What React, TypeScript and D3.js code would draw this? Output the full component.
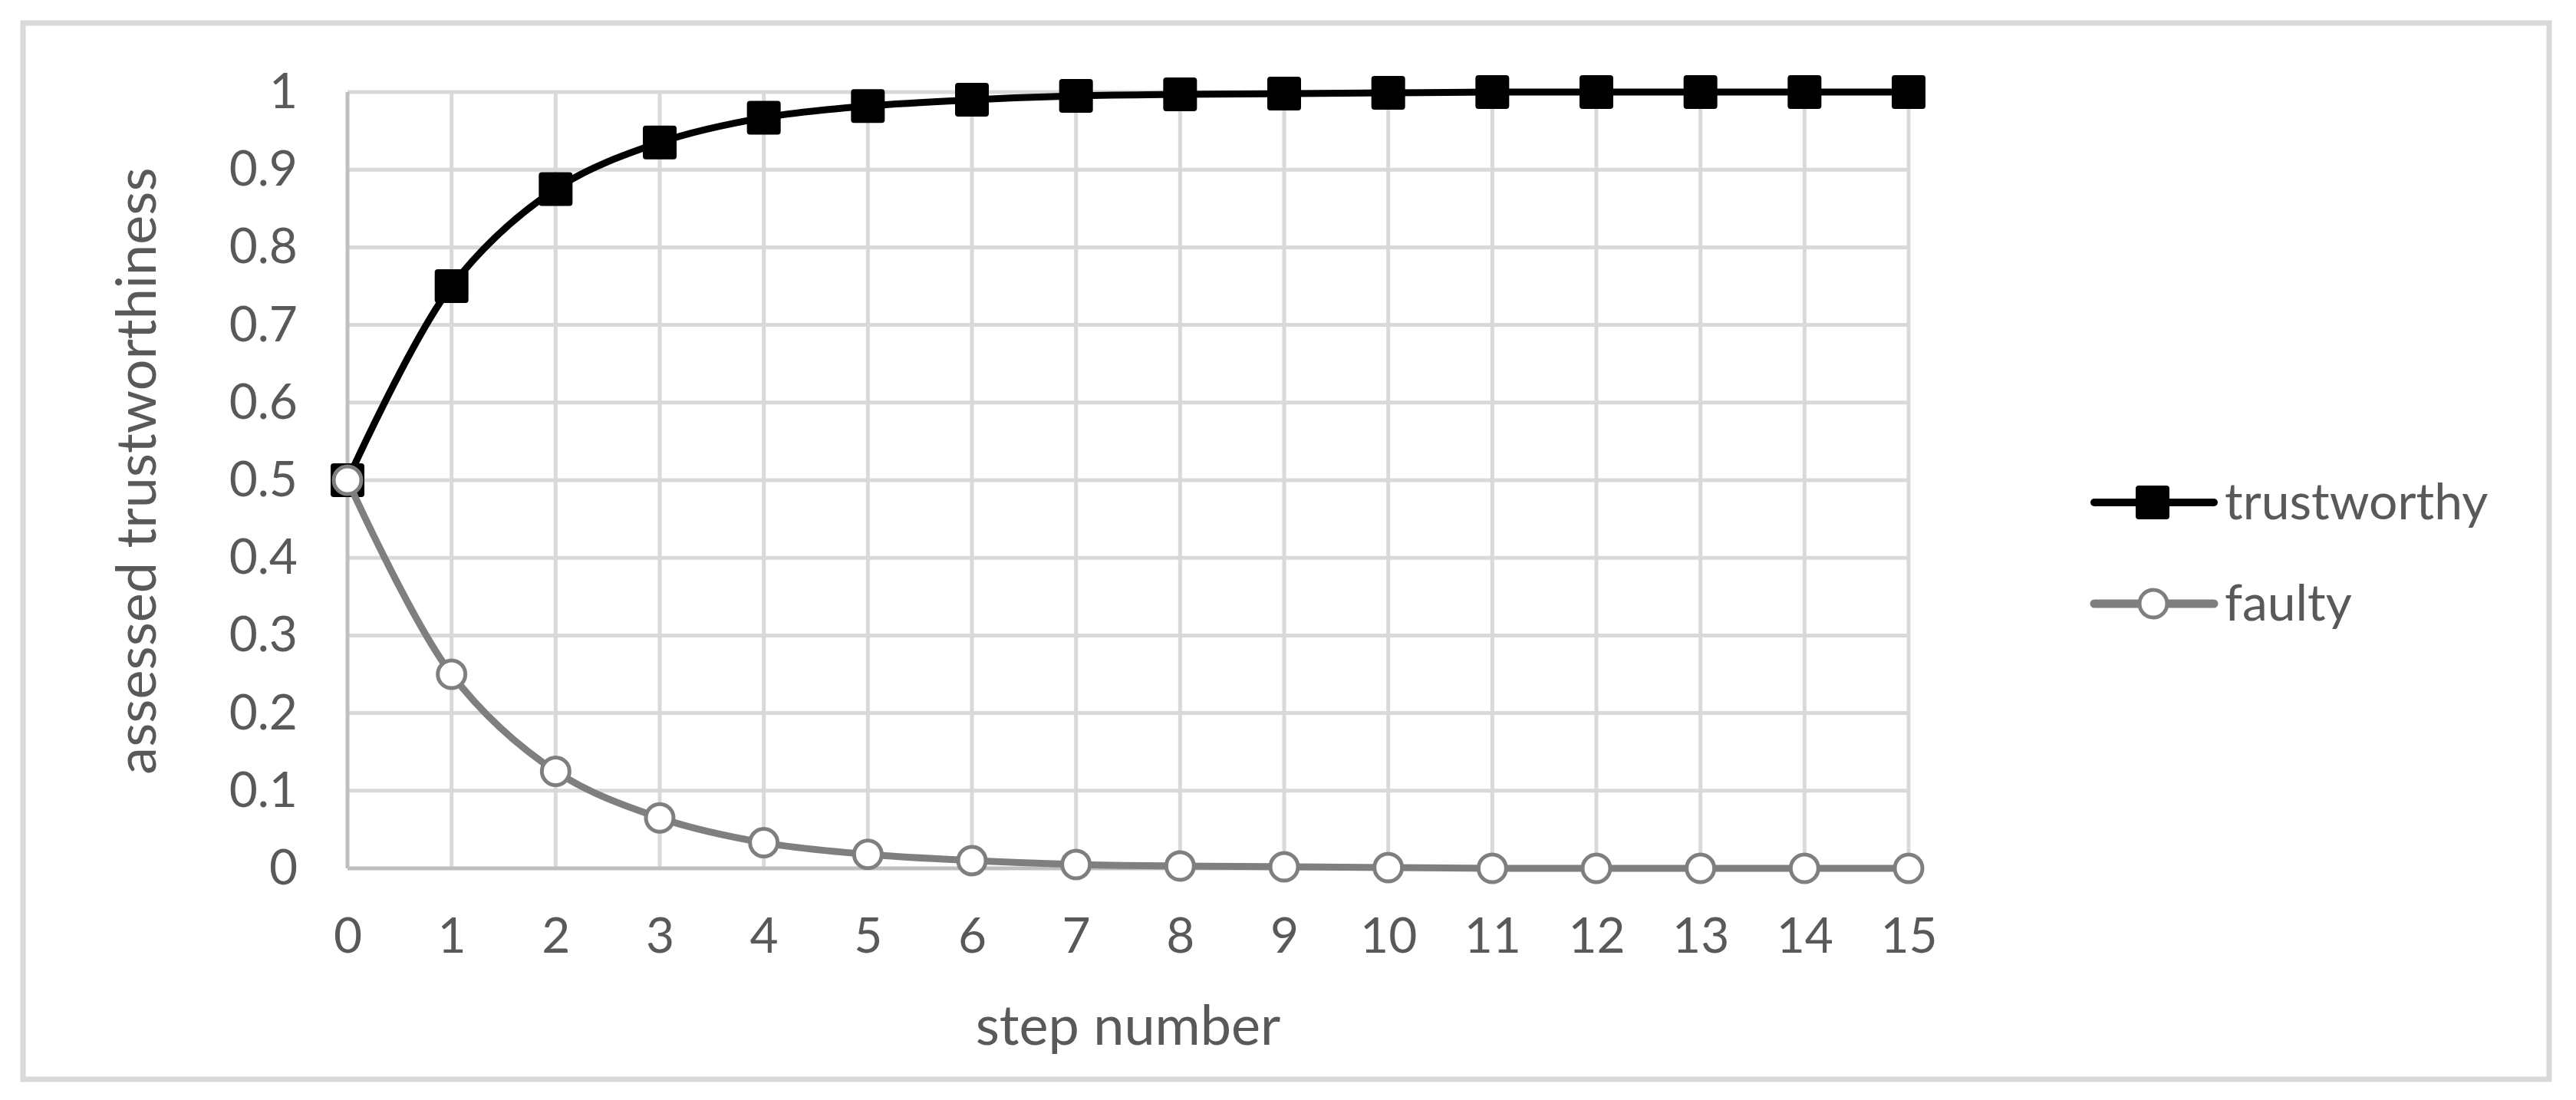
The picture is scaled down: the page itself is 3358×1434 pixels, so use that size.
import React, { useRef, useEffect } from "react";
import { select, scaleLinear, line, curveCatmullRom, axisLeft, axisBottom } from "d3";

// step numbers on the x axis
const steps = [0, 1, 2, 3, 4, 5, 6, 7, 8, 9, 10, 11, 12, 13, 14, 15];
// assessed trustworthiness of the two nodes
const trustworthy = [0.5, 0.75, 0.875, 0.935, 0.967, 0.982, 0.99, 0.995, 0.997, 0.998, 0.999, 1, 1, 1, 1, 1];
const faulty = [0.5, 0.25, 0.125, 0.065, 0.033, 0.018, 0.01, 0.005, 0.003, 0.002, 0.001, 0, 0, 0, 0, 0];
const yTicks = [0, 0.1, 0.2, 0.3, 0.4, 0.5, 0.6, 0.7, 0.8, 0.9, 1];
const seriesNames = ["trustworthy", "faulty"];

const W = 3358;
const H = 1434;
const FONT = "Lato, 'Open Sans', sans-serif";

const App = () => {
  const svgRef = useRef(null);

  useEffect(() => {
    const svg = select(svgRef.current);
    svg.selectAll("*").remove();

    const x = scaleLinear().domain([0, 15]).range([453, 2488]);
    const y = scaleLinear().domain([0, 1]).range([1132, 120]);

    // outer chart border
    svg
      .append("rect")
      .attr("x", 30)
      .attr("y", 30)
      .attr("width", 3293)
      .attr("height", 1377)
      .attr("fill", "#fff")
      .attr("stroke", "#d9d9d9")
      .attr("stroke-width", 7);

    // gridlines
    const grid = svg.append("g");
    grid
      .selectAll(".hgrid")
      .data(yTicks.filter((d) => d > 0))
      .join("line")
      .attr("x1", x(0))
      .attr("x2", x(15))
      .attr("y1", (d) => y(d))
      .attr("y2", (d) => y(d))
      .attr("stroke", "#d9d9d9")
      .attr("stroke-width", 5);
    grid
      .selectAll(".vgrid")
      .data(steps.filter((d) => d > 0))
      .join("line")
      .attr("x1", (d) => x(d))
      .attr("x2", (d) => x(d))
      .attr("y1", y(0))
      .attr("y2", y(1))
      .attr("stroke", "#d9d9d9")
      .attr("stroke-width", 5);

    // axis lines
    svg
      .append("line")
      .attr("x1", x(0))
      .attr("x2", x(0))
      .attr("y1", y(0))
      .attr("y2", y(1))
      .attr("stroke", "#bfbfbf")
      .attr("stroke-width", 5);
    svg
      .append("line")
      .attr("x1", x(0))
      .attr("x2", x(15))
      .attr("y1", y(0))
      .attr("y2", y(0))
      .attr("stroke", "#bfbfbf")
      .attr("stroke-width", 5);

    // tick labels
    const yAxis = axisLeft(y)
      .tickValues(yTicks)
      .tickSize(0)
      .tickPadding(65)
      .tickFormat((d) => String(d));
    const gy = svg.append("g").attr("transform", `translate(${x(0)},0)`).call(yAxis);
    const xAxis = axisBottom(x)
      .tickValues(steps)
      .tickSize(0)
      .tickPadding(65)
      .tickFormat((d) => String(d));
    const gx = svg.append("g").attr("transform", `translate(0,${y(0)})`).call(xAxis);
    [gx, gy].forEach((g) => {
      g.select(".domain").remove();
      g.selectAll("text")
        .attr("fill", "#595959")
        .style("font-family", FONT)
        .style("font-size", "64px");
    });

    // axis titles
    svg
      .append("text")
      .attr("x", (x(0) + x(15)) / 2)
      .attr("y", 1362)
      .attr("text-anchor", "middle")
      .attr("fill", "#595959")
      .style("font-family", FONT)
      .style("font-size", "72px")
      .text("step number");
    svg
      .append("text")
      .attr("transform", `translate(203,614) rotate(-90)`)
      .attr("text-anchor", "middle")
      .attr("fill", "#595959")
      .style("font-family", FONT)
      .style("font-size", "72px")
      .text("assessed  trustworthiness");

    const lineGen = line()
      .x((d, i) => x(steps[i]))
      .y((d) => y(d))
      .curve(curveCatmullRom.alpha(0.5));

    // trustworthy series: black line, black squares
    svg
      .append("path")
      .attr("d", lineGen(trustworthy))
      .attr("fill", "none")
      .attr("stroke", "#000")
      .attr("stroke-width", 9)
      .attr("stroke-linecap", "round");
    svg
      .selectAll(".sq")
      .data(trustworthy)
      .join("rect")
      .attr("x", (d, i) => x(steps[i]) - 22)
      .attr("y", (d) => y(d) - 22)
      .attr("width", 44)
      .attr("height", 44)
      .attr("rx", 4)
      .attr("fill", "#000");

    // faulty series: gray line, hollow circles
    svg
      .append("path")
      .attr("d", lineGen(faulty))
      .attr("fill", "none")
      .attr("stroke", "#7f7f7f")
      .attr("stroke-width", 9)
      .attr("stroke-linecap", "round");
    svg
      .selectAll(".ci")
      .data(faulty)
      .join("circle")
      .attr("cx", (d, i) => x(steps[i]))
      .attr("cy", (d) => y(d))
      .attr("r", 18)
      .attr("fill", "#fff")
      .attr("stroke", "#7f7f7f")
      .attr("stroke-width", 5);

    // legend
    const legend = svg.append("g");
    const legendY = [655, 787];
    seriesNames.forEach((name, i) => {
      const color = i === 0 ? "#000" : "#7f7f7f";
      legend
        .append("line")
        .attr("x1", 2730)
        .attr("x2", 2886)
        .attr("y1", legendY[i])
        .attr("y2", legendY[i])
        .attr("stroke", color)
        .attr("stroke-width", i === 0 ? 10 : 11)
        .attr("stroke-linecap", "round");
      if (i === 0) {
        legend
          .append("rect")
          .attr("x", 2806 - 22)
          .attr("y", legendY[i] - 22)
          .attr("width", 44)
          .attr("height", 44)
          .attr("rx", 4)
          .attr("fill", "#000");
      } else {
        legend
          .append("circle")
          .attr("cx", 2807)
          .attr("cy", legendY[i])
          .attr("r", 18)
          .attr("fill", "#fff")
          .attr("stroke", color)
          .attr("stroke-width", 5);
      }
      legend
        .append("text")
        .attr("x", 2900)
        .attr("y", legendY[i] + 22)
        .attr("fill", "#595959")
        .style("font-family", FONT)
        .style("font-size", "66px")
        .text(name);
    });
  }, []);

  return (
    <svg
      ref={svgRef}
      width={W}
      height={H}
      style={{ position: "absolute", left: 0, top: 0, background: "#fff" }}
    />
  );
};

export default App;
